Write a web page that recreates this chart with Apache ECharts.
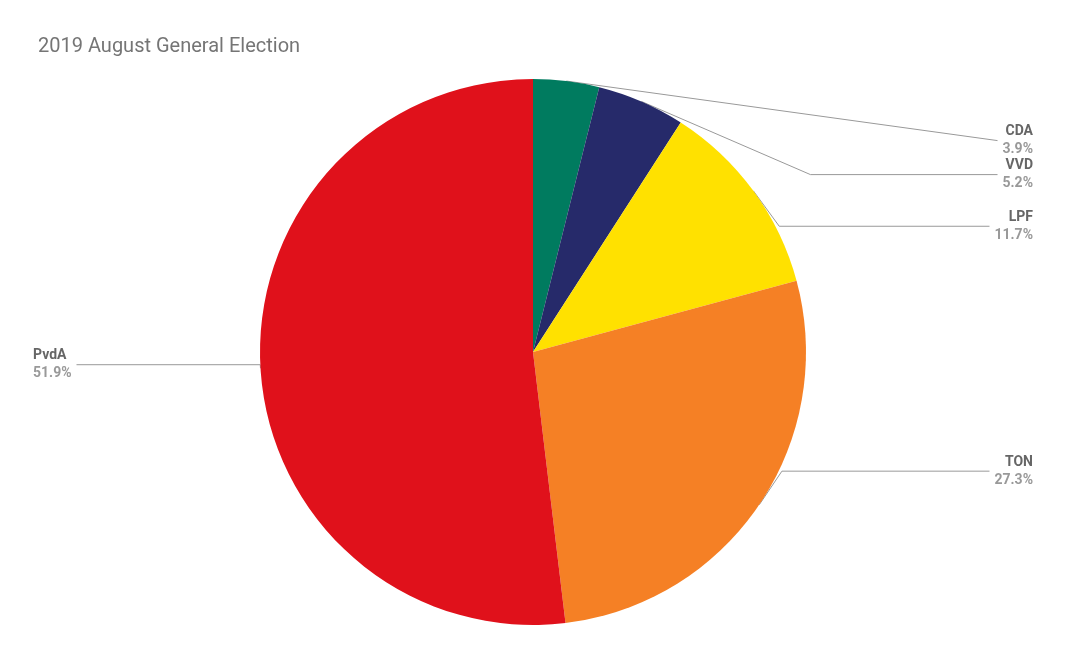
<!DOCTYPE html>
<html><head><meta charset="utf-8">
<script src="https://cdn.jsdelivr.net/npm/echarts@6/dist/echarts.min.js"></script>
<style>html,body{margin:0;padding:0;background:#fff}#c{width:1066px;height:659px}</style>
</head><body><div id="c"></div>
<script>
const names = ['CDA','VVD','LPF','TON','PvdA'];
const values = [3.9,5.2,11.7,27.3,51.9];
const colors = ['#007B5F','#262A6A','#FFE100','#F58025','#E0111B'];
const chart = echarts.init(document.getElementById('c'));
chart.setOption({
  title:{text:'2019 August General Election',left:33,top:32,textStyle:{fontFamily:'Roboto',fontSize:20,fontWeight:'normal',color:'#757575'}},
  series:[{
    type:'pie',center:[533,352],radius:273,startAngle:90,clockwise:true,
    data:names.map((n,i)=>({name:n,value:values[i],itemStyle:{color:colors[i]}})),
    itemStyle:{borderColor:'#fff',borderWidth:0},
    label:{position:'outside',alignTo:'edge',edgeDistance:33,
      formatter:p=>'{n|'+p.name+'}\n{v|'+p.value.toFixed(1)+'%}',
      rich:{n:{fontFamily:'Roboto',fontSize:14,fontWeight:'bold',color:'#666',lineHeight:18},
            v:{fontFamily:'Roboto',fontSize:14,fontWeight:'bold',color:'#999',lineHeight:18}}},
    labelLine:{length:-60,length2:20,lineStyle:{color:'#999',width:1}},
    emphasis:{disabled:true},animation:false
  }]
});
</script></body></html>
